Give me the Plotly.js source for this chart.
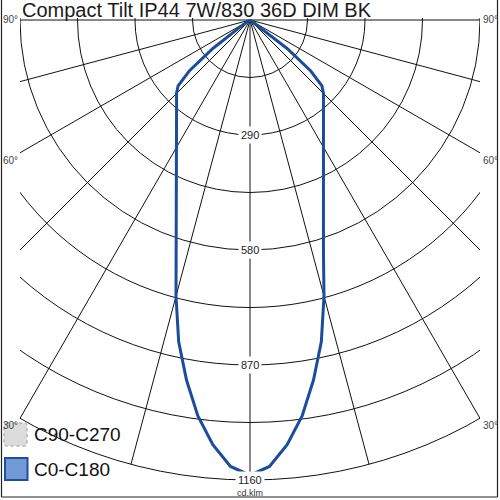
<!DOCTYPE html>
<html>
<head>
<meta charset="utf-8">
<script src="https://cdn.plot.ly/plotly-3.0.1.min.js"></script>
<style>html,body{margin:0;padding:0;background:#fff;}#chart{width:500px;height:500px;}</style>
</head>
<body>
<div id="chart"></div>
<script>
// ---- data ----
const gammaDeg = [0,2.5,5,7.5,10,12.5,15,17.5,20,22.5,25,27.5,30,32.5,35,37.5,40,42.5,45,47.5,50,52.5,55,57.5,60,65,70,75,80,85,90];
const c0c180   = [1148,1127,1075,1007,922,831,721,616,542,484,439,401,371,345,323,304,288,274,262,246,200,118,25,0,0,0,0,0,0,0,0];
const c90c270  = [1148,1127,1075,1007,922,831,721,616,542,484,439,401,371,345,323,304,288,274,262,246,200,118,25,0,0,0,0,0,0,0,0];
const ringValues = [145,290,435,580,725,870,1015,1160];
const ringLabelValues = [290,580,870,1160];
const ringLabels = ['290','580','870','1160'];
const spokeAngles = [-90,-75,-60,-45,-30,-15,0,15,30,45,60,75,90];
const angleLabels = ['90°','60°','30°'];
const seriesNames = ['C90-C270','C0-C180'];
const titleText = 'Compact Tilt IP44 7W/830 36D DIM BK';
const unitText = 'cd.klm';
const rMax = 1160;

// ---- geometry helpers ----
const W = 500, H = 500, ML = 20, MR = 20, MT = 18, MB = 18;
const PW = W - ML - MR, PH = H - MT - MB;
const cdPerPx = (2 * 580) / PW;
const yTop = (20 - MT) * cdPerPx, yBot = -(H - MB - 20) * cdPerPx;
const px = x => (x - ML) / PW;
const py = y => (H - MB - y) / PH;
const rad = d => d * Math.PI / 180;

function toXY(angles, vals) {
  const xs = [], ys = [];
  for (let i = angles.length - 1; i >= 1; i--) {
    xs.push(-vals[i] * Math.sin(rad(angles[i])));
    ys.push(-vals[i] * Math.cos(rad(angles[i])));
  }
  for (let i = 0; i < angles.length; i++) {
    xs.push(vals[i] * Math.sin(rad(angles[i])));
    ys.push(-vals[i] * Math.cos(rad(angles[i])));
  }
  return {xs, ys};
}

const p90 = toXY(gammaDeg, c90c270);
const p0 = toXY(gammaDeg, c0c180);

const traces = [
  {x: p90.xs, y: p90.ys, type: 'scatter', mode: 'lines', name: seriesNames[0],
   line: {color: '#c8c8c8', width: 2, dash: 'dash'}, hoverinfo: 'skip'},
  {x: p0.xs, y: p0.ys, type: 'scatter', mode: 'lines', name: seriesNames[1],
   line: {color: '#1c4c9c', width: 3}, hoverinfo: 'skip'}
];

const shapes = [];
ringValues.forEach(r => {
  shapes.push({type: 'circle', xref: 'x', yref: 'y', x0: -r, x1: r, y0: -r, y1: r,
    line: {color: '#111', width: 1}, layer: 'below'});
});
spokeAngles.forEach(a => {
  shapes.push({type: 'line', xref: 'x', yref: 'y', x0: 0, y0: 0,
    x1: rMax * Math.sin(rad(a)), y1: -rMax * Math.cos(rad(a)),
    line: {color: '#111', width: 1}, layer: 'below'});
});
// outer frame (left, right, bottom)
shapes.push({type: 'line', xref: 'paper', yref: 'paper', x0: px(1.5), x1: px(1.5), y0: py(0), y1: py(497), line: {color: '#222', width: 1.2}});
shapes.push({type: 'line', xref: 'paper', yref: 'paper', x0: px(497.5), x1: px(497.5), y0: py(0), y1: py(497), line: {color: '#222', width: 1.2}});
shapes.push({type: 'line', xref: 'paper', yref: 'paper', x0: px(1.5), x1: px(497.5), y0: py(497), y1: py(497), line: {color: '#222', width: 1.2}});

function roundRect(x0, y0, x1, y1, r) {
  return `M${px(x0 + r)},${py(y0)} L${px(x1 - r)},${py(y0)} Q${px(x1)},${py(y0)} ${px(x1)},${py(y0 + r)} ` +
         `L${px(x1)},${py(y1 - r)} Q${px(x1)},${py(y1)} ${px(x1 - r)},${py(y1)} ` +
         `L${px(x0 + r)},${py(y1)} Q${px(x0)},${py(y1)} ${px(x0)},${py(y1 - r)} ` +
         `L${px(x0)},${py(y0 + r)} Q${px(x0)},${py(y0)} ${px(x0 + r)},${py(y0)} Z`;
}

const FONT = 'Liberation Sans, Arial, sans-serif';
const annotations = [];
// title
annotations.push({xref: 'paper', yref: 'paper', x: px(20), y: py(10), xanchor: 'left', yanchor: 'middle',
  text: titleText, showarrow: false, font: {family: FONT, size: 20, color: '#1a1a1a'}});
// ring labels
ringLabelValues.forEach((v, i) => {
  annotations.push({xref: 'x', yref: 'y', x: 0, y: -v, xanchor: 'center', yanchor: 'middle',
    text: ringLabels[i], showarrow: false,
    bgcolor: '#ffffff', borderpad: 2, font: {family: FONT, size: 11, color: '#222'}});
});
annotations.push({xref: 'paper', yref: 'paper', x: px(250), y: py(493), xanchor: 'center', yanchor: 'middle',
  text: unitText, showarrow: false, font: {family: FONT, size: 9, color: '#333'}});
// angle labels
const angY = [20, 160, 425];
angleLabels.forEach((t, i) => {
  annotations.push({xref: 'paper', yref: 'paper', x: px(10), y: py(angY[i]), xanchor: 'center', yanchor: 'middle',
    text: t, showarrow: false, font: {family: FONT, size: 10, color: '#444'}});
  annotations.push({xref: 'paper', yref: 'paper', x: px(490), y: py(angY[i]), xanchor: 'center', yanchor: 'middle',
    text: t, showarrow: false, font: {family: FONT, size: 10, color: '#444'}});
});

// legend (drawn manually)
shapes.push({type: 'path', xref: 'paper', yref: 'paper', path: roundRect(4, 423, 27, 446, 3),
  fillcolor: '#dcdcdc', line: {color: '#b4b4b4', width: 1.5, dash: 'dot'}});
shapes.push({type: 'rect', xref: 'paper', yref: 'paper', x0: px(5), x1: px(27.5), y0: py(458), y1: py(480),
  fillcolor: '#7399d6', line: {color: '#1f4e9a', width: 2}});
annotations.push({xref: 'paper', yref: 'paper', x: px(32), y: py(434), xanchor: 'left', yanchor: 'middle',
  text: seriesNames[0], showarrow: false, font: {family: FONT, size: 19, color: '#111'}});
annotations.push({xref: 'paper', yref: 'paper', x: px(32), y: py(469), xanchor: 'left', yanchor: 'middle',
  text: seriesNames[1], showarrow: false, font: {family: FONT, size: 19, color: '#111'}});

const layout = {
  width: W, height: H,
  margin: {l: ML, r: MR, t: MT, b: MB, pad: 0},
  paper_bgcolor: '#ffffff', plot_bgcolor: '#ffffff',
  showlegend: false,
  xaxis: {range: [-580, 580], visible: false, fixedrange: true},
  yaxis: {range: [yBot, yTop], visible: false, fixedrange: true},
  shapes: shapes,
  annotations: annotations
};

Plotly.newPlot('chart', traces, layout, {staticPlot: true, displayModeBar: false});
</script>
</body>
</html>
